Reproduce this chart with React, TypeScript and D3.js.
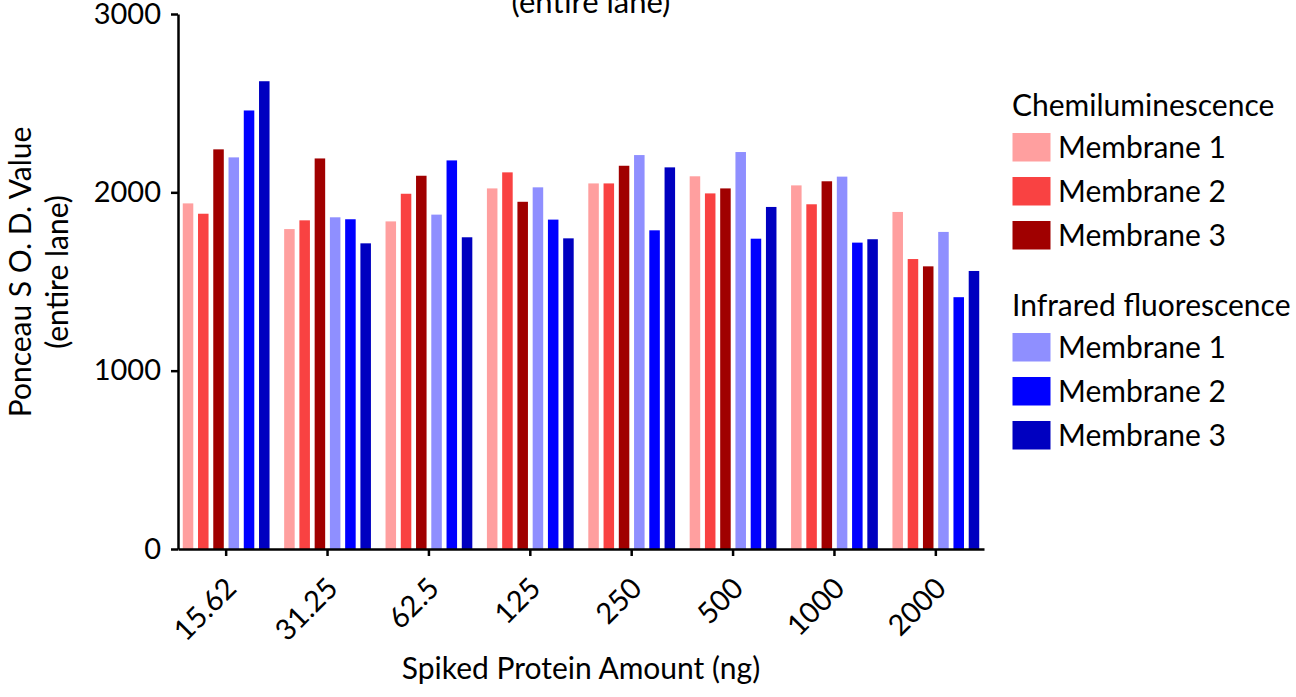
import React, { useEffect, useRef } from 'react';
import * as d3 from 'd3';

// spiked protein amounts (ng)
const categories = ['15.62', '31.25', '62.5', '125', '250', '500', '1000', '2000'];

// Ponceau S O.D. values
const chemiM1 = [1938, 1794, 1837, 2022, 2050, 2090, 2039, 1890];
const chemiM2 = [1880, 1843, 1992, 2112, 2050, 1994, 1933, 1626];
const chemiM3 = [2241, 2190, 2093, 1947, 2149, 2022, 2062, 1585];
const irM1 = [2196, 1860, 1875, 2028, 2209, 2226, 2088, 1778];
const irM2 = [2459, 1849, 2179, 1847, 1787, 1740, 1718, 1412];
const irM3 = [2623, 1714, 1748, 1742, 2140, 1918, 1737, 1559];

const seriesKeys = ['chemiM1', 'chemiM2', 'chemiM3', 'irM1', 'irM2', 'irM3'];
const seriesValues = [chemiM1, chemiM2, chemiM3, irM1, irM2, irM3];
const seriesColors = ['#FF9F9F', '#F94242', '#A00000', '#8F8FFF', '#0000FF', '#0000C0'];

const yTicks = [0, 1000, 2000, 3000];

const legendGroups = [
  { title: 'Chemiluminescence', items: ['Membrane 1', 'Membrane 2', 'Membrane 3'], colors: seriesColors.slice(0, 3) },
  { title: 'Infrared fluorescence', items: ['Membrane 1', 'Membrane 2', 'Membrane 3'], colors: seriesColors.slice(3) },
];

const WIDTH = 1296;
const HEIGHT = 697;
const FONT = "Lato, 'Open Sans', sans-serif";

const App = () => {
  const svgRef = useRef<SVGSVGElement>(null);

  useEffect(() => {
    const svg = d3.select(svgRef.current);
    svg.selectAll('*').remove();

    const left = 178;
    const right = 984;
    const top = 14;
    const bottom = 549;

    const x0 = d3.scaleBand().domain(categories).range([left, right]).paddingInner(0.144).paddingOuter(0.047);
    const x1 = d3.scaleBand().domain(seriesKeys).range([0, x0.bandwidth()]).paddingInner(0.31);
    const y = d3.scaleLinear().domain([0, 3000]).range([bottom, top]);

    // bars
    const groups = svg.append('g')
      .selectAll('g')
      .data(categories)
      .enter()
      .append('g')
      .attr('transform', d => `translate(${x0(d)},0)`);

    groups.selectAll('rect')
      .data((d, i) => seriesKeys.map((k, s) => ({ key: k, value: seriesValues[s][i], color: seriesColors[s] })))
      .enter()
      .append('rect')
      .attr('x', d => x1(d.key)!)
      .attr('y', d => y(d.value))
      .attr('width', x1.bandwidth())
      .attr('height', d => bottom - y(d.value))
      .attr('fill', d => d.color);

    // y axis
    const yAxis = svg.append('g')
      .attr('transform', `translate(${left},0)`)
      .call(d3.axisLeft(y).tickValues(yTicks).tickFormat(d3.format('d')).tickSize(7).tickSizeOuter(0).tickPadding(10));
    yAxis.select('.domain').attr('stroke-width', 2.5);
    yAxis.selectAll('.tick line').attr('stroke-width', 2.5);
    yAxis.selectAll('text').style('font-family', FONT).style('font-size', '29px').attr('fill', '#000');

    // x axis
    const xAxis = svg.append('g')
      .attr('transform', `translate(0,${bottom})`)
      .call(d3.axisBottom(x0).tickSize(7).tickSizeOuter(0));
    xAxis.select('.domain').attr('stroke-width', 2.5);
    xAxis.selectAll('.tick line').attr('stroke-width', 2.5);
    xAxis.selectAll('text')
      .style('font-family', FONT)
      .style('font-size', '29px')
      .attr('fill', '#000')
      .attr('text-anchor', 'end')
      .attr('dy', null)
      .attr('y', null)
      .attr('transform', 'translate(12,41) rotate(-45)');

    // axis titles
    const yLabel = svg.append('text')
      .attr('transform', `translate(31,272) rotate(-90)`)
      .attr('text-anchor', 'middle')
      .style('font-family', FONT)
      .style('font-size', '30px');
    yLabel.append('tspan').attr('x', 0).attr('dy', 0).text('Ponceau S O. D. Value');
    yLabel.append('tspan').attr('x', 0).attr('dy', 37).text('(entire lane)');

    svg.append('text')
      .attr('x', (left + right) / 2)
      .attr('y', 679)
      .attr('text-anchor', 'middle')
      .style('font-family', FONT)
      .style('font-size', '30px')
      .text('Spiked Protein Amount (ng)');

    // chart title, cropped at the top edge in the source
    svg.append('text')
      .attr('x', 591)
      .attr('y', 13)
      .attr('text-anchor', 'middle')
      .style('font-family', FONT)
      .style('font-size', '31px')
      .text('(entire lane)');

    // legend
    const legend = svg.append('g').attr('transform', 'translate(1012,0)');
    const groupTops = [116, 316];
    legendGroups.forEach((grp, gi) => {
      const g = legend.append('g').attr('transform', `translate(0,${groupTops[gi]})`);
      g.append('text')
        .attr('x', 0)
        .attr('y', 0)
        .style('font-family', FONT)
        .style('font-size', '30px')
        .text(grp.title);
      grp.items.forEach((item, i) => {
        g.append('rect')
          .attr('x', 0.5)
          .attr('y', 17 + i * 44)
          .attr('width', 38)
          .attr('height', 28.5)
          .attr('fill', grp.colors[i]);
        g.append('text')
          .attr('x', 46)
          .attr('y', 42 + i * 44)
          .style('font-family', FONT)
          .style('font-size', '30px')
          .text(item);
      });
    });
  }, []);

  return (
    <svg
      ref={svgRef}
      width={WIDTH}
      height={HEIGHT}
      style={{ position: 'absolute', left: 0, top: 0, background: '#fff' }}
    />
  );
};

export default App;
